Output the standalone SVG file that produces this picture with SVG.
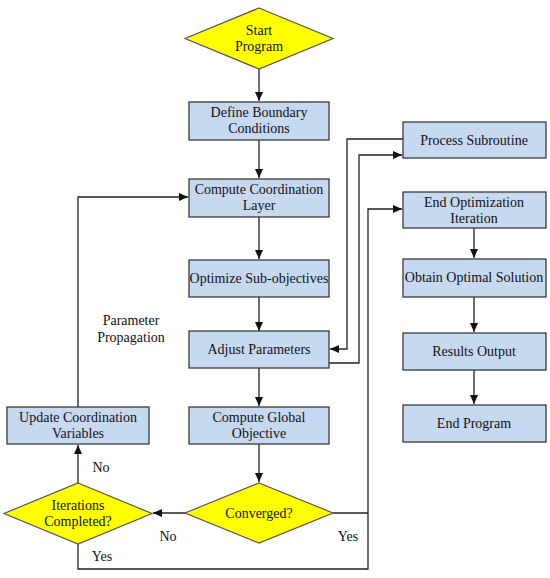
<svg xmlns="http://www.w3.org/2000/svg" width="550" height="578" viewBox="0 0 550 578" font-family="Liberation Serif, serif">
<style>
.box{fill:#c6d9f1;stroke:#3a3a3a;stroke-width:1.3}
.dia{fill:#ffff00;stroke:#555;stroke-width:1.2}
.t{font-size:14px;fill:#111;text-anchor:middle}
.ln{fill:none;stroke:#222;stroke-width:1.3}
</style>
<defs>
<marker id="ah" markerWidth="10" markerHeight="10" refX="9" refY="5" orient="auto" markerUnits="userSpaceOnUse">
<path d="M0,1 L9,5 L0,9 Z" fill="#111"/>
</marker>
</defs>
<rect width="550" height="578" fill="#fff"/>
<g id="connectors">
<path class="ln" d="M259,69 V101" marker-end="url(#ah)"/>
<path class="ln" d="M259,140 V178" marker-end="url(#ah)"/>
<path class="ln" d="M259,217 V259" marker-end="url(#ah)"/>
<path class="ln" d="M259,297 V331" marker-end="url(#ah)"/>
<path class="ln" d="M259,368 V406" marker-end="url(#ah)"/>
<path class="ln" d="M259,444 V482" marker-end="url(#ah)"/>
<path class="ln" d="M186,513 H153" marker-end="url(#ah)"/>
<path class="ln" d="M78,483 V445" marker-end="url(#ah)"/>
<path class="ln" d="M78,407 V197 H188" marker-end="url(#ah)"/>
<path class="ln" d="M329,363 H359 V155 H402" marker-end="url(#ah)"/>
<path class="ln" d="M403,139 H347 V349 H330" marker-end="url(#ah)"/>
<path class="ln" d="M333,513 H368"/>
<path class="ln" d="M78,544 V569 H368 V209 H402" marker-end="url(#ah)"/>
<path class="ln" d="M474,228 V258" marker-end="url(#ah)"/>
<path class="ln" d="M474,297 V332" marker-end="url(#ah)"/>
<path class="ln" d="M474,370 V404" marker-end="url(#ah)"/>
</g>
<g id="start"><polygon class="dia" points="259,8 333,38.5 259,69 185,38.5"/><text class="t" x="259" y="35">Start</text><text class="t" x="259" y="51">Program</text></g>
<g id="define"><rect class="box" x="189" y="102" width="140" height="38"/><text class="t" x="259" y="117">Define Boundary</text><text class="t" x="259" y="133">Conditions</text></g>
<g id="coord"><rect class="box" x="189" y="179" width="140" height="38"/><text class="t" x="259" y="194">Compute Coordination</text><text class="t" x="259" y="210">Layer</text></g>
<g id="optsub"><rect class="box" x="189" y="260" width="140" height="37"/><text class="t" x="259" y="283">Optimize Sub-objectives</text></g>
<g id="adjust"><rect class="box" x="189" y="331" width="140" height="37"/><text class="t" x="259" y="354">Adjust Parameters</text></g>
<g id="global"><rect class="box" x="189" y="407" width="140" height="37"/><text class="t" x="259" y="422">Compute Global</text><text class="t" x="259" y="438">Objective</text></g>
<g id="converged"><polygon class="dia" points="259,483 333,513 259,543 185,513"/><text class="t" x="259" y="518">Converged?</text></g>
<g id="iter"><polygon class="dia" points="78,483 152,513.5 78,544 4,513.5"/><text class="t" x="78" y="510">Iterations</text><text class="t" x="78" y="526">Completed?</text></g>
<g id="update"><rect class="box" x="7" y="407" width="142" height="37"/><text class="t" x="78" y="422">Update Coordination</text><text class="t" x="78" y="438">Variables</text></g>
<g id="process"><rect class="box" x="403" y="122" width="143" height="36"/><text class="t" x="474" y="145">Process Subroutine</text></g>
<g id="endopt"><rect class="box" x="403" y="192" width="143" height="36"/><text class="t" x="474" y="207">End Optimization</text><text class="t" x="474" y="223">Iteration</text></g>
<g id="obtain"><rect class="box" x="403" y="259" width="143" height="38"/><text class="t" x="474" y="282">Obtain Optimal Solution</text></g>
<g id="results"><rect class="box" x="403" y="333" width="143" height="37"/><text class="t" x="474" y="356">Results Output</text></g>
<g id="endprog"><rect class="box" x="403" y="405" width="143" height="37"/><text class="t" x="474" y="428">End Program</text></g>
<g id="labels">
<text class="t" x="131" y="325">Parameter</text><text class="t" x="131" y="342">Propagation</text>
<text class="t" x="101" y="472">No</text>
<text class="t" x="168" y="541">No</text>
<text class="t" x="348" y="541">Yes</text>
<text class="t" x="102" y="561">Yes</text>
</g>
</svg>
